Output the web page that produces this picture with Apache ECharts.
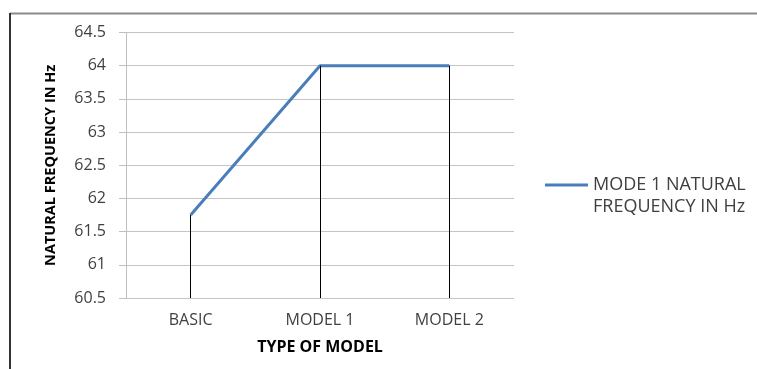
<!DOCTYPE html>
<html>
<head>
<meta charset="utf-8">
<script src="https://cdn.jsdelivr.net/npm/echarts@6/dist/echarts.min.js"></script>
<style>
  html, body { margin: 0; padding: 0; background: #fff; }
  #chart { width: 757px; height: 369px; }
</style>
</head>
<body>
<div id="chart"></div>
<script>
// Model types and their first-mode natural frequency (Hz)
const categories = ['BASIC', 'MODEL 1', 'MODEL 2'];
const mode1Frequency = [61.75, 64, 64];
const yTicks = { min: 60.5, max: 64.5, step: 0.5 };

const FONT = '"Open Sans", "Liberation Sans", sans-serif';
const chart = echarts.init(document.getElementById('chart'));

// Vertical drop lines from each point down to the axis floor
const dropLines = mode1Frequency.map((v, i) => [
  { coord: [i, yTicks.min] },
  { coord: [i, v] }
]);

chart.setOption({
  animation: false,
  backgroundColor: '#ffffff',
  grid: { left: 126, right: 243, top: 32.5, bottom: 71 },
  graphic: [
    { type: 'line', shape: { x1: 10, y1: 13.5, x2: 757, y2: 13.5 },
      style: { stroke: '#8a8a8a', lineWidth: 2 } },
    { type: 'line', shape: { x1: 10, y1: 13, x2: 10, y2: 369 },
      style: { stroke: '#333333', lineWidth: 2 } }
  ],
  legend: {
    orient: 'vertical',
    left: 545, top: 152,
    padding: 0,
    itemWidth: 43, itemHeight: 3, itemGap: 4,
    icon: 'rect',
    textStyle: { fontFamily: FONT, fontSize: 18, color: '#404040', lineHeight: 22 },
    // leading blank line keeps the first text line level with the swatch
    formatter: () => '\nMODE 1 NATURAL\nFREQUENCY IN Hz',
    data: ['MODE 1 NATURAL FREQUENCY IN Hz']
  },
  xAxis: {
    type: 'category',
    data: categories,
    boundaryGap: true,
    name: 'TYPE OF MODEL',
    nameLocation: 'middle',
    nameGap: 41,
    nameTextStyle: { fontFamily: FONT, fontSize: 16, fontWeight: 'bold', color: '#000' },
    axisLine: { show: false },
    axisTick: { show: false },
    axisLabel: { fontFamily: FONT, fontSize: 16, color: '#404040', margin: 14 }
  },
  yAxis: {
    type: 'value',
    min: yTicks.min, max: yTicks.max, interval: yTicks.step,
    name: 'NATURAL FREQUENCY IN Hz',
    nameLocation: 'middle',
    nameGap: 68,
    nameTextStyle: { fontFamily: FONT, fontSize: 14.5, fontWeight: 'bold', color: '#000' },
    axisLine: { show: true, lineStyle: { color: '#bfbfbf', width: 1 } },
    axisTick: { show: true, length: 7, lineStyle: { color: '#bfbfbf' } },
    axisLabel: { fontFamily: FONT, fontSize: 16, color: '#404040', margin: 20 },
    splitLine: { lineStyle: { color: '#c4c4c4', width: 1 } }
  },
  series: [{
    name: 'MODE 1 NATURAL FREQUENCY IN Hz',
    type: 'line',
    data: mode1Frequency,
    symbol: 'none',
    lineStyle: { color: '#4a7ebb', width: 3 },
    itemStyle: { color: '#4a7ebb' },
    markLine: {
      silent: true,
      symbol: 'none',
      label: { show: false },
      lineStyle: { color: '#000000', width: 1, type: 'solid' },
      data: dropLines
    },
    z: 3
  }]
});
</script>
</body>
</html>
